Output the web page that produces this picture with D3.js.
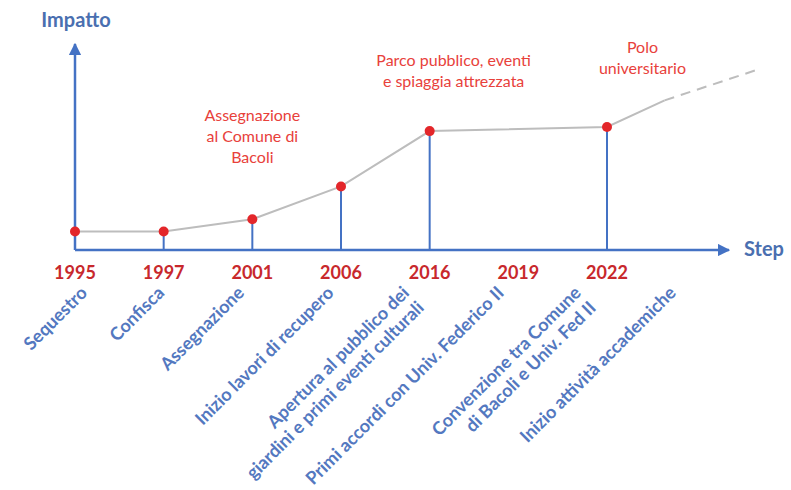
<!DOCTYPE html>
<html><head><meta charset="utf-8">
<script src="https://cdn.jsdelivr.net/npm/d3@7"></script>
<style>body{margin:0;background:#fff}</style>
</head><body>
<svg id="c" width="791" height="490"></svg>
<script>
// ---- data ----
const years = ["1995","1997","2001","2006","2016","2019","2022"];
const pointYears = ["1995","1997","2001","2006","2016","2022"];
const impact = [9, 9, 15, 31, 58, 60];
const projectionSteps = [6.65, 7.7];
const projectionImpact = [73, 88];
const stepLabels = [
  ["Sequestro"],
  ["Confisca"],
  ["Assegnazione"],
  ["Inizio lavori di recupero"],
  ["Apertura al pubblico dei","giardini e primi eventi culturali"],
  ["Primi accordi con Univ. Federico II"],
  ["Convenzione tra Comune","di Bacoli e Univ. Fed II"],
  ["Inizio attività accademiche"]
];
const stepLabelSteps = [0.15, 1.02, 1.92, 2.93, 3.78, 4.85, 5.72, 6.79];
const annotations = [
  ["Assegnazione","al Comune di","Bacoli"],
  ["Parco pubblico, eventi","e spiaggia attrezzata"],
  ["Polo","universitario"]
];
const annotationSteps = [2, 4.27, 6.4];
const annotationLevels = [63, 90, 96];

// ---- layout ----
const svg = d3.select("#c");
const BLUE = "#4472c4", RED = "#c8282c", RED2 = "#e8413b", DOT = "#e3262a";
const FONT = "Lato, 'Open Sans', sans-serif";
const x0 = 75, y0 = 250;
const x = d3.scaleLinear().domain([0, 6]).range([75, 607]);
const y = d3.scaleLinear().domain([0, 100]).range([y0, 45]);
const stepOf = yr => years.indexOf(yr);

const defs = svg.append("defs");
defs.append("marker").attr("id","arr").attr("viewBox","0 0 10 10")
  .attr("refX",9).attr("refY",5).attr("markerWidth",5).attr("markerHeight",5)
  .attr("markerUnits","strokeWidth").attr("orient","auto")
  .append("path").attr("d","M0,0 L10,5 L0,10 z").attr("fill",BLUE);

// curve line
const pts = pointYears.map((yr,i)=>[x(stepOf(yr)), y(impact[i])]);
const line = d3.line();
svg.append("path").attr("d", line(pts.concat([[x(projectionSteps[0]), y(projectionImpact[0])]])))
  .attr("fill","none").attr("stroke","#bdbdbd").attr("stroke-width",2);
svg.append("path").attr("d", line([[x(projectionSteps[0]), y(projectionImpact[0])],[x(projectionSteps[1]), y(projectionImpact[1])]]))
  .attr("fill","none").attr("stroke","#bdbdbd").attr("stroke-width",2).attr("stroke-dasharray","10,7");

// stems
svg.selectAll(".stem").data(pointYears.slice(1)).enter().append("line")
  .attr("x1", d=>x(stepOf(d))).attr("x2", d=>x(stepOf(d)))
  .attr("y1", d=>y(impact[pointYears.indexOf(d)])).attr("y2", y0)
  .attr("stroke", BLUE).attr("stroke-width", 2);

// axes
svg.append("line").attr("x1",x0).attr("y1",y0).attr("x2",x0).attr("y2",44)
  .attr("stroke",BLUE).attr("stroke-width",2.5).attr("marker-end","url(#arr)");
svg.append("line").attr("x1",x0).attr("y1",y0).attr("x2",729).attr("y2",y0)
  .attr("stroke",BLUE).attr("stroke-width",2.5).attr("marker-end","url(#arr)");

// dots
svg.selectAll(".dot").data(pts).enter().append("circle")
  .attr("cx", d=>d[0]).attr("cy", d=>d[1]).attr("r", 5).attr("fill", DOT);

// axis titles
svg.append("text").attr("x",76).attr("y",27).attr("text-anchor","middle")
  .attr("font-family",FONT).attr("font-weight","bold").attr("font-size",20)
  .attr("fill","#4a6fb0").text("Impatto");
svg.append("text").attr("x",744).attr("y",256)
  .attr("font-family",FONT).attr("font-weight","bold").attr("font-size",20)
  .attr("fill","#4a6fb0").text("Step");

// year labels
svg.selectAll(".yr").data(years).enter().append("text")
  .attr("x", d=>x(stepOf(d))).attr("y", 279).attr("text-anchor","middle")
  .attr("font-family",FONT).attr("font-weight","bold").attr("font-size",18)
  .attr("fill",RED).text(d=>d);

// rotated step labels
stepLabels.forEach((lines,i)=>{
  const g = svg.append("g").attr("transform",`translate(${x(stepLabelSteps[i])},${y0+44}) rotate(-45)`);
  lines.forEach((t,j)=>{
    g.append("text").attr("x",0).attr("y",j*21).attr("text-anchor","end")
      .attr("font-family",FONT).attr("font-weight","bold").attr("font-size",18)
      .attr("fill","#5378c0").text(t);
  });
});

// annotations
annotations.forEach((lines,i)=>{
  lines.forEach((t,j)=>{
    svg.append("text").attr("x", x(annotationSteps[i])).attr("y", y(annotationLevels[i]) + j*21)
      .attr("text-anchor","middle").attr("font-family",FONT).attr("font-size",16)
      .attr("fill",RED2).text(t);
  });
});
</script>
</body></html>
